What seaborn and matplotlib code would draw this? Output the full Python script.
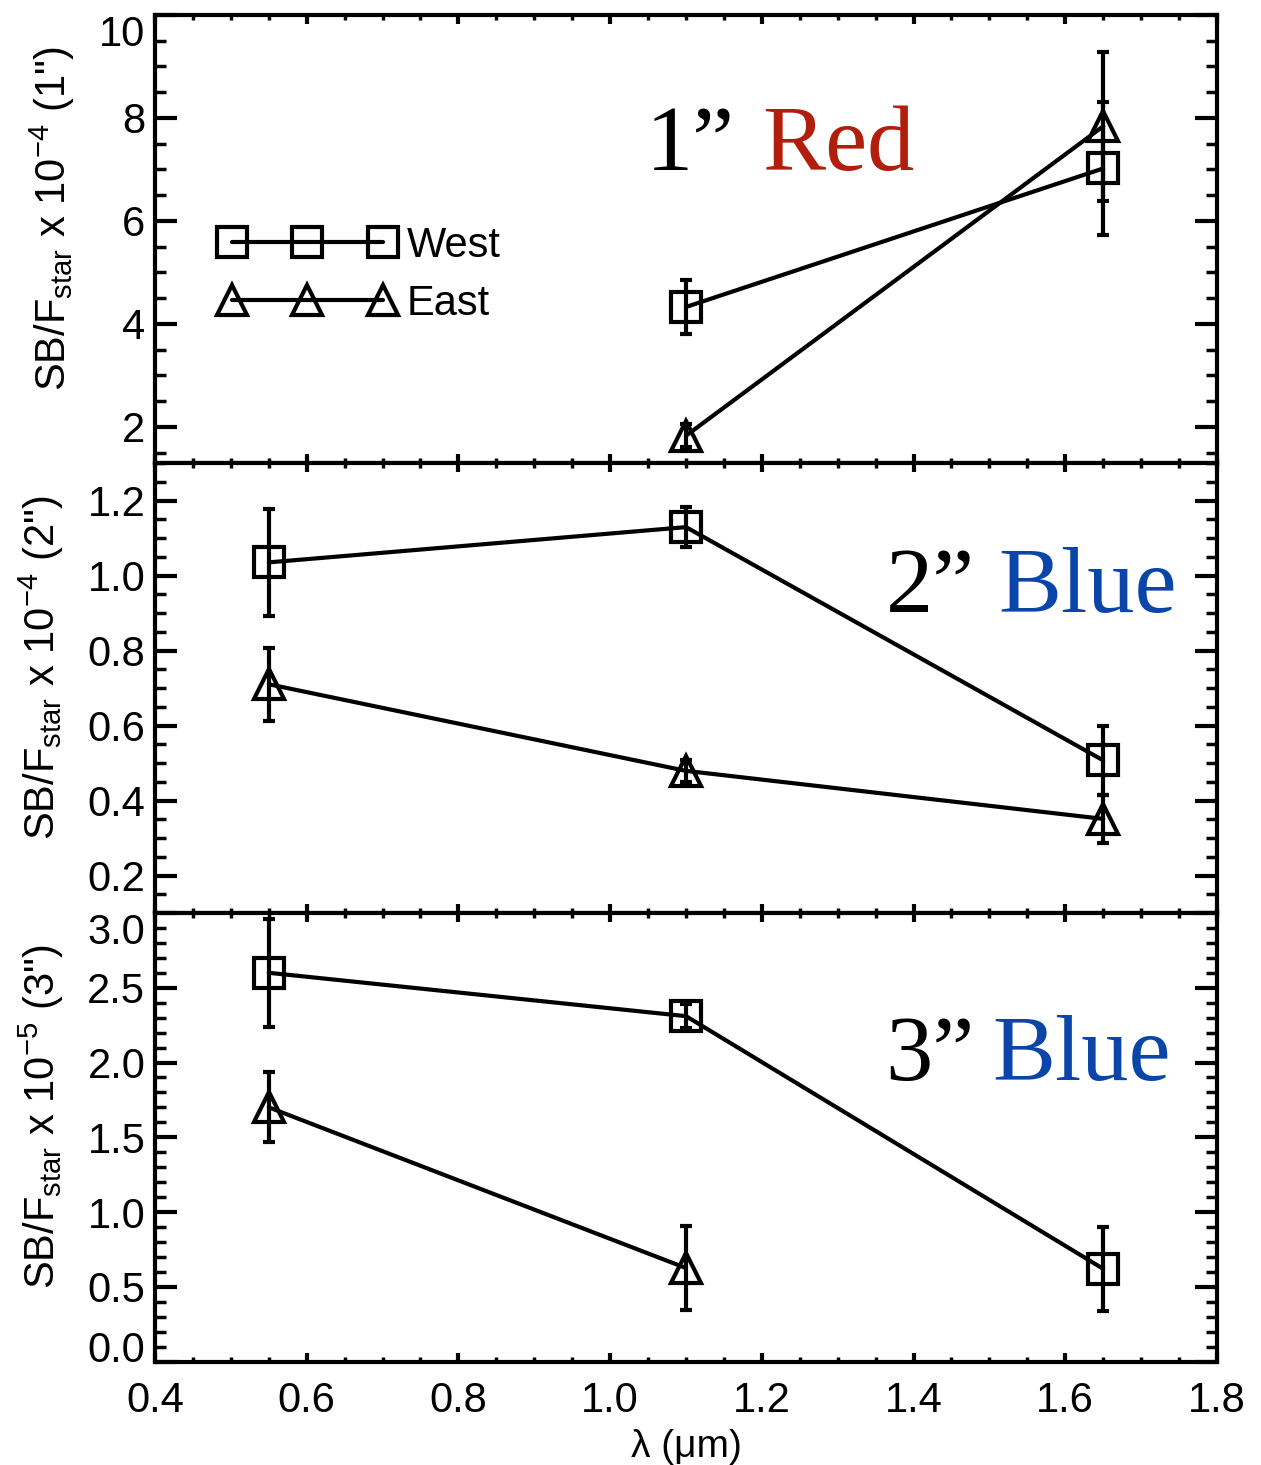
import numpy as np
import pandas as pd
import matplotlib
matplotlib.use("Agg")
import matplotlib.pyplot as plt
from matplotlib.lines import Line2D
from matplotlib.ticker import MultipleLocator
import seaborn as sns

# ---- data: surface brightness relative to the star, per aperture ----
# 1" aperture (J and H only)
r1_wave = [1.10, 1.65]
r1_west = [4.33, 7.02]
r1_west_err = [0.53, 1.30]
r1_east = [1.83, 7.84]
r1_east_err = [0.22, 1.45]

# 2" aperture
r2_wave = [0.55, 1.10, 1.65]
r2_west = [1.035, 1.129, 0.507]
r2_west_err = [0.142, 0.053, 0.092]
r2_east = [0.710, 0.479, 0.351]
r2_east_err = [0.097, 0.030, 0.065]

# 3" aperture (no H-band point on the east side)
r3_west_wave = [0.55, 1.10, 1.65]
r3_west = [2.60, 2.31, 0.62]
r3_west_err = [0.36, 0.08, 0.28]
r3_east_wave = [0.55, 1.10]
r3_east = [1.70, 0.625]
r3_east_err = [0.235, 0.28]

ylabels = [
    r'SB/F$_\mathregular{star}$ x 10$^\mathregular{-4}$ (1")',
    r'SB/F$_\mathregular{star}$ x 10$^\mathregular{-4}$ (2")',
    r'SB/F$_\mathregular{star}$ x 10$^\mathregular{-5}$ (3")',
]
panel_num = ["1\u201d", "2\u201d", "3\u201d"]
panel_word = ["Red", "Blue", "Blue"]
word_colors = ["#B21E0C", "#0A46AA", "#0A46AA"]


def frame(wave_w, west, west_err, wave_e, east, east_err):
    a = pd.DataFrame({"wavelength": wave_w, "value": west, "err": west_err, "side": "West"})
    b = pd.DataFrame({"wavelength": wave_e, "value": east, "err": east_err, "side": "East"})
    return pd.concat([a, b], ignore_index=True)


panels = [
    frame(r1_wave, r1_west, r1_west_err, r1_wave, r1_east, r1_east_err),
    frame(r2_wave, r2_west, r2_west_err, r2_wave, r2_east, r2_east_err),
    frame(r3_west_wave, r3_west, r3_west_err, r3_east_wave, r3_east, r3_east_err),
]

sns.set_style("ticks")
plt.rcParams["font.family"] = ["Liberation Sans", "DejaVu Sans"]
plt.rcParams["mathtext.default"] = "regular"
plt.rcParams["text.color"] = "black"

fig = plt.figure(figsize=(12.61, 14.65), dpi=100)
left, right = 155 / 1261, 1217 / 1261
tops = [15, 463, 913]
bots = [463, 913, 1361.5]
H = 1465

ylims = [(1.3, 10.0), (0.1, 1.3), (0.0, 3.0)]
yticks = [[2, 4, 6, 8, 10], [0.2, 0.4, 0.6, 0.8, 1.0, 1.2], [0.0, 0.5, 1.0, 1.5, 2.0, 2.5, 3.0]]
yfmt = ["{:.0f}", "{:.1f}", "{:.1f}"]
yminor = [0.5, 0.05, 0.1]
ylab_x = [-0.073, -0.084, -0.084]
txt_y = [0.654, 0.668, 0.627]
num_x = [0.546, 0.772, 0.772]
word_x = [0.572, 0.794, 0.788]

MS = 22
axes = []
for i, df in enumerate(panels):
    ax = fig.add_axes([left, 1 - bots[i] / H, right - left, (bots[i] - tops[i]) / H])
    axes.append(ax)
    sns.lineplot(
        data=df, x="wavelength", y="value", style="side",
        markers={"West": "s", "East": "^"}, dashes=False,
        color="black", lw=3, ms=MS, mfc="none", mec="black", mew=3,
        estimator=None, sort=False, legend=False, ax=ax,
    )
    ax.errorbar(df["wavelength"], df["value"], yerr=df["err"], fmt="none",
                ecolor="black", elinewidth=3, capsize=4.5, capthick=3, zorder=3)

    ax.set_xlim(0.4, 1.8)
    ax.set_ylim(*ylims[i])
    ax.set_yticks(yticks[i])
    ax.set_yticklabels([yfmt[i].format(v) for v in yticks[i]])
    ax.yaxis.set_minor_locator(MultipleLocator(yminor[i]))
    ax.set_xticks(np.arange(0.4, 1.81, 0.2))
    ax.xaxis.set_minor_locator(MultipleLocator(0.05))

    for s in ax.spines.values():
        s.set_linewidth(3)
        s.set_color("black")
        s.set_visible(True)
    ax.tick_params(axis="both", which="both", direction="in", top=True, right=True,
                   colors="black", labelsize=30)
    ax.tick_params(axis="y", which="major", length=16, width=3, pad=7)
    ax.tick_params(axis="y", which="minor", length=8, width=2.5)
    ax.tick_params(axis="x", which="major", length=6.5, width=3, pad=14)
    ax.tick_params(axis="x", which="minor", length=3.5, width=2.5)

    ax.set_ylabel(ylabels[i], fontsize=30, color="black")
    ax.yaxis.set_label_coords(ylab_x[i], 0.545)
    if i < 2:
        ax.tick_params(axis="x", labelbottom=False)
        ax.set_xlabel("")
    else:
        ax.set_xlabel("\u03bb (\u03bcm)", fontsize=28, color="black", labelpad=6)

    ax.text(num_x[i], txt_y[i], panel_num[i], transform=ax.transAxes, ha="right",
            va="baseline", fontsize=68, family="Liberation Serif", color="black")
    ax.text(word_x[i], txt_y[i], panel_word[i], transform=ax.transAxes, ha="left",
            va="baseline", fontsize=68, family="Liberation Serif", color=word_colors[i])

# labels sitting on the panel edges are kept inside their own panel
axes[0].yaxis.get_major_ticks()[-1].label1.set_verticalalignment("top")
axes[2].yaxis.get_major_ticks()[-1].label1.set_verticalalignment("top")
axes[2].yaxis.get_major_ticks()[0].label1.set_verticalalignment("baseline")

handles = [
    Line2D([], [], color="black", lw=3, marker="s", ms=MS, mfc="none", mec="black", mew=3),
    Line2D([], [], color="black", lw=3, marker="^", ms=MS, mfc="none", mec="black", mew=3),
]
axes[0].legend(handles, ["West", "East"], loc="upper left", bbox_to_anchor=(0.0607, 0.529),
               frameon=False, numpoints=3, handlelength=4.22, handletextpad=0.28,
               labelspacing=0.42, borderpad=0, borderaxespad=0, fontsize=30,
               labelcolor="black")

fig.savefig("out.png", dpi=100)
